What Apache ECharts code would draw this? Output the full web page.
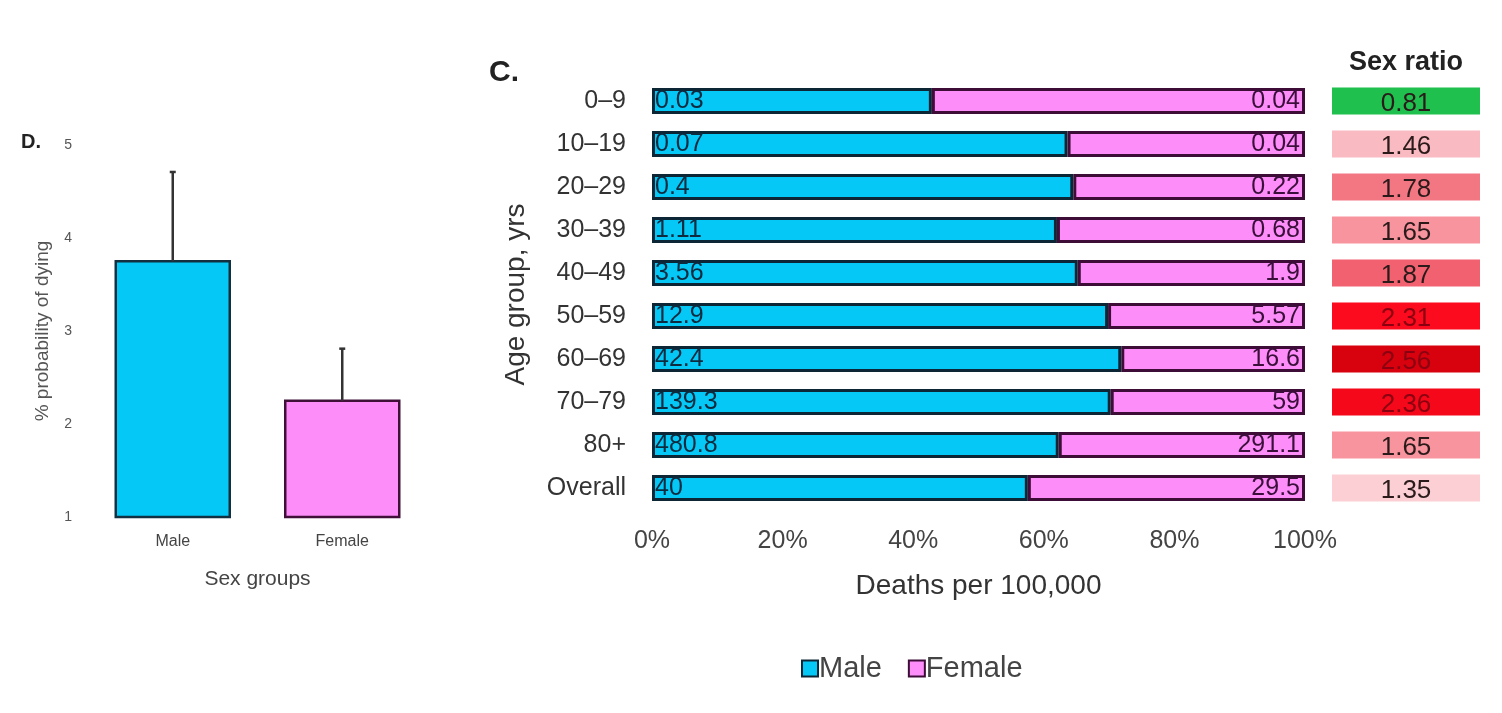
<!DOCTYPE html>
<html>
<head>
<meta charset="utf-8">
<script src="https://cdn.jsdelivr.net/npm/echarts@6/dist/echarts.min.js"></script>
<style>
html,body{margin:0;padding:0;background:#fff;}
#chart{width:1502px;height:713px;}
</style>
</head>
<body>
<div id="chart"></div>
<script>
// ---- Data ----
const ageGroups = ['0–9','10–19','20–29','30–39','40–49','50–59','60–69','70–79','80+','Overall'];
const maleDeaths = [0.03,0.07,0.4,1.11,3.56,12.9,42.4,139.3,480.8,40];
const femaleDeaths = [0.04,0.04,0.22,0.68,1.9,5.57,16.6,59,291.1,29.5];
const sexRatio = [0.81,1.46,1.78,1.65,1.87,2.31,2.56,2.36,1.65,1.35];
const pctTicks = [0,20,40,60,80,100];

const sexGroups = ['Male','Female'];
const probMean = [3.75,2.25];
const probUpper = [4.71,2.81];
const probTicks = [1,2,3,4,5];

// ---- Styles ----
const FONT = '"Liberation Sans", Arial, sans-serif';
const MALE = '#06c8f6';
const FEMALE = '#fd8ef9';
const MALE_BORDER = '#0c2636';
const FEMALE_BORDER = '#3d0d38';

function hex2rgb(h){h=h.replace('#','');return [parseInt(h.substr(0,2),16),parseInt(h.substr(2,2),16),parseInt(h.substr(4,2),16)];}
function ratioColor(r){
  if (r < 1) return '#1fc04e';
  const stops = [[1.3,'#fcd8dd'],[1.6,'#f8a0a8'],[1.9,'#f05a6a'],[2.3,'#fd0a1e'],[2.6,'#d2000c']];
  if (r <= stops[0][0]) return stops[0][1];
  for (let i=1;i<stops.length;i++){
    if (r <= stops[i][0]){
      const t=(r-stops[i-1][0])/(stops[i][0]-stops[i-1][0]);
      const a=hex2rgb(stops[i-1][1]), b=hex2rgb(stops[i][1]);
      return 'rgb('+a.map((v,k)=>Math.round(v+(b[k]-v)*t)).join(',')+')';
    }
  }
  return stops[stops.length-1][1];
}

const malePct = maleDeaths.map((m,i)=> m/(m+femaleDeaths[i])*100);
const femalePct = femaleDeaths.map((f,i)=> f/(maleDeaths[i]+f)*100);

const chart = echarts.init(document.getElementById('chart'));

const option = {
  backgroundColor:'#fff',
  animation:false,
  textStyle:{fontFamily:FONT},
  graphic:[
    {type:'text', left:21, top:132, style:{text:'D.', font:'bold 20px '+FONT, fill:'#222'}},
    {type:'text', left:489, top:58, style:{text:'C.', font:'bold 30px '+FONT, fill:'#222'}}
  ],
  legend:{
    data:['Male','Female'],
    left:796, top:649,
    itemWidth:16, itemHeight:16, itemGap:26,
    icon:'rect',
    textStyle:{fontSize:29, color:'#444', fontFamily:FONT, padding:[0,0,0,-4]}
  },
  grid:[
    {left:88, width:339, top:145, height:372},
    {left:652, width:653, top:79.5, height:430},
    {left:1324, width:164, top:79.5, height:430}
  ],
  xAxis:[
    {gridIndex:0, type:'category', data:sexGroups,
      axisLine:{show:false}, axisTick:{show:false},
      axisLabel:{fontSize:16, color:'#444', margin:17},
      name:'Sex groups', nameLocation:'middle', nameGap:52,
      nameTextStyle:{fontSize:21, color:'#444'}},
    {gridIndex:1, type:'value', min:0, max:100, interval:20,
      axisLine:{show:false}, axisTick:{show:false}, splitLine:{show:false},
      axisLabel:{fontSize:25, color:'#444', margin:19, formatter:'{value}%'},
      name:'Deaths per 100,000', nameLocation:'middle', nameGap:63,
      nameTextStyle:{fontSize:28, color:'#333'}},
    {gridIndex:2, type:'category', data:['Sex ratio'], position:'top',
      axisLine:{show:false}, axisTick:{show:false},
      axisLabel:{fontSize:27, fontWeight:'bold', color:'#222', margin:3}}
  ],
  yAxis:[
    {gridIndex:0, type:'value', min:1, max:5, interval:1,
      axisLine:{show:false}, axisTick:{show:false}, splitLine:{show:false},
      axisLabel:{fontSize:14, color:'#555', margin:16},
      name:'% probability of dying', nameLocation:'middle', nameGap:36,
      nameTextStyle:{fontSize:19, color:'#555'}},
    {gridIndex:1, type:'category', data:ageGroups, inverse:true,
      axisLine:{show:false}, axisTick:{show:false},
      axisLabel:{fontSize:25, color:'#333', margin:26},
      name:'Age group, yrs', nameLocation:'middle', nameGap:122,
      nameTextStyle:{fontSize:28, color:'#333'}},
    {gridIndex:2, type:'category', data:ageGroups, inverse:true,
      axisLine:{show:false}, axisTick:{show:false}, axisLabel:{show:false}}
  ],
  series:[
    {
      name:'prob', type:'custom', xAxisIndex:0, yAxisIndex:0,
      data: probMean.map((m,i)=>[i,m,probUpper[i]]),
      renderItem:function(params, api){
        const i = api.value(0);
        const base = api.coord([i,1]);
        const top = api.coord([i, api.value(1)]);
        const up = api.coord([i, api.value(2)]);
        const w = 114;
        const fill = i===0 ? MALE : FEMALE;
        const stroke = i===0 ? '#123040' : '#401038';
        return {type:'group', children:[
          {type:'rect', shape:{x:base[0]-w/2, y:top[1], width:w, height:base[1]-top[1]},
            style:{fill:fill, stroke:stroke, lineWidth:2.5}},
          {type:'line', shape:{x1:top[0], y1:top[1], x2:up[0], y2:up[1]}, style:{stroke:'#333', lineWidth:2.5}},
          {type:'line', shape:{x1:up[0]-3, y1:up[1], x2:up[0]+3, y2:up[1]}, style:{stroke:'#333', lineWidth:2.5}}
        ]};
      }
    },
    {
      name:'Male', type:'bar', stack:'pct', xAxisIndex:1, yAxisIndex:1,
      barWidth:26,
      itemStyle:{color:MALE, borderColor:MALE_BORDER, borderWidth:3},
      label:{show:true, position:'insideLeft', distance:3, fontSize:25, color:'#0d2a3e',
        formatter:p=> String(maleDeaths[p.dataIndex])},
      data: malePct
    },
    {
      name:'Female', type:'bar', stack:'pct', xAxisIndex:1, yAxisIndex:1,
      barWidth:26,
      itemStyle:{color:FEMALE, borderColor:FEMALE_BORDER, borderWidth:3},
      label:{show:true, position:'insideRight', distance:5, fontSize:25, color:'#3a0f3a',
        formatter:p=> String(femaleDeaths[p.dataIndex])},
      data: femalePct
    },
    {
      name:'ratio', type:'custom', xAxisIndex:2, yAxisIndex:2,
      data: sexRatio.map((r,i)=>[0,i,r]),
      renderItem:function(params, api){
        const c = api.coord([api.value(0), api.value(1)]);
        const w = 148, h = 27;
        const r = api.value(2);
        const col = ratioColor(r);
        return {type:'group', children:[
          {type:'rect', shape:{x:c[0]-w/2, y:c[1]-h/2, width:w, height:h}, style:{fill:col}},
          {type:'text', x:c[0], y:c[1]+3, style:{text:r.toFixed(2), font:'26px '+FONT,
            fill: r>2.2 ? '#8a0010' : '#2a1a1a', align:'center', verticalAlign:'middle'}}
        ]};
      }
    }
  ]
};
chart.setOption(option);
</script>
</body>
</html>
